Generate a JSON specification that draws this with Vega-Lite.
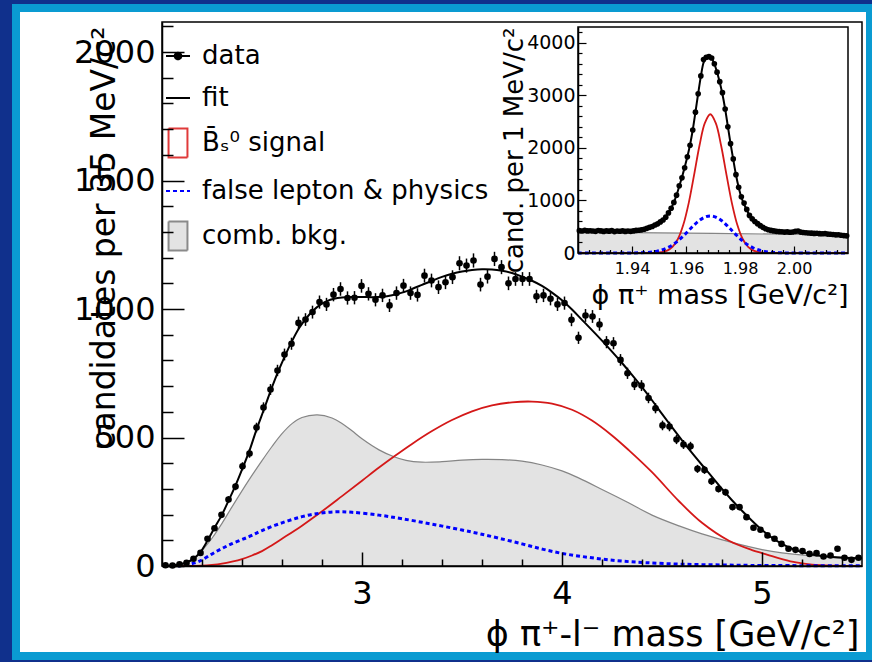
{
  "$schema": "https://vega.github.io/schema/vega-lite/v6.json",
  "width": 700,
  "height": 544,
  "autosize": {"type": "none"},
  "padding": {"left": 162, "top": 22, "right": 10, "bottom": 96},
  "background": "#10308c",
  "config": {
    "font": "DejaVu Sans",
    "view": {"stroke": null},
    "axis": {"grid": false, "domainColor": "black", "tickColor": "black", "labelColor": "black", "titleColor": "black", "titleFontWeight": "normal", "labelFont": "DejaVu Sans", "titleFont": "DejaVu Sans", "labelOverlap": false, "labelFlush": false}
  },
  "datasets": {
    "pts": [
      {"m":2.0175,"v":3,"e":1.5},{"m":2.0525,"v":2,"e":1.2},{"m":2.0875,"v":7,"e":2.1},{"m":2.1225,"v":12,"e":2.8},{"m":2.1575,"v":28,"e":4.2},
      {"m":2.1925,"v":51,"e":5.7},{"m":2.2275,"v":106,"e":8.2},{"m":2.2625,"v":147,"e":9.7},{"m":2.2975,"v":199,"e":11.3},{"m":2.3325,"v":259,"e":12.9},
      {"m":2.3675,"v":309,"e":14.1},{"m":2.4025,"v":388,"e":15.8},{"m":2.4375,"v":438,"e":16.7},{"m":2.4725,"v":539,"e":18.6},{"m":2.5075,"v":617,"e":19.9},
      {"m":2.5425,"v":687,"e":21},{"m":2.5775,"v":761,"e":22.1},{"m":2.6125,"v":823,"e":23},{"m":2.6475,"v":865,"e":23.5},{"m":2.6825,"v":946,"e":24.6},
      {"m":2.7175,"v":959,"e":24.8},{"m":2.7525,"v":988,"e":25.1},{"m":2.7875,"v":1027,"e":25.6},{"m":2.8225,"v":1018,"e":25.5},{"m":2.8575,"v":1056,"e":26},
      {"m":2.8925,"v":1078,"e":26.3},{"m":2.9275,"v":1043,"e":25.8},{"m":2.9625,"v":1044,"e":25.8},{"m":2.9975,"v":1090,"e":26.4},{"m":3.0325,"v":1059,"e":26},
      {"m":3.0675,"v":1036,"e":25.7},{"m":3.1025,"v":1053,"e":26},{"m":3.1375,"v":1014,"e":25.5},{"m":3.1725,"v":1062,"e":26.1},{"m":3.2075,"v":1091,"e":26.4},
      {"m":3.2425,"v":1062,"e":26.1},{"m":3.2775,"v":1055,"e":26},{"m":3.3125,"v":1130,"e":26.9},{"m":3.3475,"v":1111,"e":26.7},{"m":3.3825,"v":1085,"e":26.4},
      {"m":3.4175,"v":1104,"e":26.6},{"m":3.4525,"v":1124,"e":26.8},{"m":3.4875,"v":1178,"e":27.5},{"m":3.5225,"v":1169,"e":27.4},{"m":3.5575,"v":1189,"e":27.6},
      {"m":3.5925,"v":1095,"e":26.5},{"m":3.6275,"v":1126,"e":26.8},{"m":3.6625,"v":1195,"e":27.7},{"m":3.6975,"v":1163,"e":27.3},{"m":3.7325,"v":1100,"e":26.5},
      {"m":3.7675,"v":1117,"e":26.7},{"m":3.8025,"v":1117,"e":26.7},{"m":3.8375,"v":1117,"e":26.7},{"m":3.8725,"v":1049,"e":25.9},{"m":3.9075,"v":1053,"e":26},
      {"m":3.9425,"v":1040,"e":25.8},{"m":3.9775,"v":1018,"e":25.5},{"m":4.0125,"v":1023,"e":25.6},{"m":4.0475,"v":958,"e":24.8},{"m":4.0825,"v":888,"e":23.8},
      {"m":4.1175,"v":975,"e":25},{"m":4.1525,"v":971,"e":24.9},{"m":4.1875,"v":940,"e":24.5},{"m":4.2225,"v":871,"e":23.6},{"m":4.2575,"v":867,"e":23.6},
      {"m":4.2925,"v":802,"e":22.7},{"m":4.3275,"v":750,"e":21.9},{"m":4.3625,"v":706,"e":21.3},{"m":4.3975,"v":702,"e":21.2},{"m":4.4325,"v":654,"e":20.5},
      {"m":4.4675,"v":614,"e":19.8},{"m":4.5025,"v":547,"e":18.7},{"m":4.5375,"v":543,"e":18.6},{"m":4.5725,"v":492,"e":17.7},{"m":4.6075,"v":473,"e":17.4},
      {"m":4.6425,"v":466,"e":17.3},{"m":4.6775,"v":378,"e":15.6},{"m":4.7125,"v":374,"e":15.5},{"m":4.7475,"v":330,"e":14.5},{"m":4.7825,"v":300,"e":13.9},
      {"m":4.8175,"v":287,"e":13.6},{"m":4.8525,"v":229,"e":12.1},{"m":4.8875,"v":229,"e":12.1},{"m":4.9225,"v":190,"e":11},{"m":4.9575,"v":149,"e":9.8},
      {"m":4.9925,"v":141,"e":9.5},{"m":5.0275,"v":119,"e":8.7},{"m":5.0625,"v":106,"e":8.2},{"m":5.0975,"v":86,"e":7.4},{"m":5.1325,"v":67,"e":6.5},
      {"m":5.1675,"v":63,"e":6.3},{"m":5.2025,"v":58,"e":6.1},{"m":5.2375,"v":47,"e":5.5},{"m":5.2725,"v":50,"e":5.7},{"m":5.3075,"v":37,"e":4.9},
      {"m":5.3425,"v":41,"e":5.1},{"m":5.3775,"v":67,"e":6.5},{"m":5.4125,"v":32,"e":4.5},{"m":5.4475,"v":24,"e":3.9},{"m":5.4825,"v":32,"e":4.5}
    ],
    "fit": [
      {"m":2.0,"v":0},{"m":2.05,"v":3},{"m":2.09,"v":7},{"m":2.12,"v":13},{"m":2.155,"v":27},{"m":2.19,"v":52},{"m":2.225,"v":95},{"m":2.26,"v":145},
      {"m":2.3,"v":200},{"m":2.335,"v":258},{"m":2.37,"v":318},{"m":2.4,"v":375},{"m":2.44,"v":455},{"m":2.47,"v":525},{"m":2.51,"v":610},{"m":2.545,"v":685},
      {"m":2.58,"v":755},{"m":2.615,"v":818},{"m":2.65,"v":875},{"m":2.685,"v":925},{"m":2.72,"v":963},{"m":2.755,"v":993},{"m":2.79,"v":1016},{"m":2.825,"v":1031},
      {"m":2.86,"v":1040},{"m":2.9,"v":1045},{"m":2.95,"v":1047},{"m":3.0,"v":1047},{"m":3.05,"v":1046},{"m":3.1,"v":1048},{"m":3.15,"v":1054},{"m":3.2,"v":1064},
      {"m":3.25,"v":1078},{"m":3.3,"v":1094},{"m":3.35,"v":1110},{"m":3.4,"v":1125},{"m":3.45,"v":1137},{"m":3.5,"v":1146},{"m":3.55,"v":1152},{"m":3.6,"v":1155},
      {"m":3.65,"v":1154},{"m":3.7,"v":1149},{"m":3.75,"v":1140},{"m":3.8,"v":1126},{"m":3.85,"v":1110},{"m":3.9,"v":1090},{"m":3.95,"v":1064},{"m":4.0,"v":1034},
      {"m":4.05,"v":998},{"m":4.1,"v":958},{"m":4.15,"v":918},{"m":4.2,"v":877},{"m":4.25,"v":834},{"m":4.3,"v":790},{"m":4.35,"v":744},{"m":4.4,"v":696},
      {"m":4.45,"v":645},{"m":4.5,"v":592},{"m":4.55,"v":540},{"m":4.6,"v":489},{"m":4.65,"v":440},{"m":4.7,"v":393},{"m":4.75,"v":347},{"m":4.8,"v":300},
      {"m":4.85,"v":256},{"m":4.9,"v":215},{"m":4.95,"v":176},{"m":5.0,"v":140},{"m":5.05,"v":110},{"m":5.1,"v":86},{"m":5.15,"v":67},{"m":5.2,"v":54},
      {"m":5.25,"v":45},{"m":5.3,"v":39},{"m":5.35,"v":35},{"m":5.4,"v":32},{"m":5.45,"v":31},{"m":5.5,"v":30}
    ],
    "cb": [
      {"m":2.0,"v":0},{"m":2.08,"v":3},{"m":2.13,"v":15},{"m":2.185,"v":48},{"m":2.25,"v":108},{"m":2.3,"v":166},{"m":2.35,"v":230},{"m":2.435,"v":335},
      {"m":2.5,"v":410},{"m":2.55,"v":465},{"m":2.6,"v":515},{"m":2.65,"v":554},{"m":2.7,"v":578},{"m":2.777,"v":588},{"m":2.85,"v":576},{"m":2.9,"v":555},
      {"m":2.95,"v":526},{"m":3.0,"v":495},{"m":3.085,"v":452},{"m":3.16,"v":425},{"m":3.22,"v":411},{"m":3.3,"v":404},{"m":3.4,"v":406},{"m":3.5,"v":412},
      {"m":3.6,"v":415},{"m":3.7,"v":414},{"m":3.8,"v":408},{"m":3.9,"v":393},{"m":4.0,"v":370},{"m":4.085,"v":342},{"m":4.2,"v":298},{"m":4.335,"v":245},
      {"m":4.45,"v":198},{"m":4.585,"v":156},{"m":4.7,"v":125},{"m":4.835,"v":95},{"m":5.0,"v":64},{"m":5.1,"v":51},{"m":5.25,"v":40},{"m":5.4,"v":35},{"m":5.5,"v":33}
    ],
    "sig": [
      {"m":2.1,"v":0},{"m":2.2,"v":1},{"m":2.25,"v":4},{"m":2.3,"v":9},{"m":2.35,"v":17},{"m":2.4,"v":27},{"m":2.45,"v":41},{"m":2.5,"v":58},{"m":2.55,"v":81},
      {"m":2.6,"v":106},{"m":2.7,"v":157},{"m":2.785,"v":204},{"m":2.9,"v":272},{"m":3.0,"v":332},{"m":3.085,"v":383},{"m":3.16,"v":426},{"m":3.25,"v":475},
      {"m":3.35,"v":525},{"m":3.45,"v":568},{"m":3.55,"v":602},{"m":3.65,"v":625},{"m":3.75,"v":637},{"m":3.85,"v":640},{"m":3.95,"v":632},{"m":4.05,"v":608},
      {"m":4.15,"v":566},{"m":4.25,"v":508},{"m":4.335,"v":450},{"m":4.45,"v":365},{"m":4.585,"v":252},{"m":4.7,"v":168},{"m":4.835,"v":98},{"m":4.95,"v":62},
      {"m":5.0,"v":50},{"m":5.05,"v":38},{"m":5.1,"v":27},{"m":5.17,"v":14},{"m":5.25,"v":5},{"m":5.35,"v":1},{"m":5.5,"v":0}
    ],
    "fl": [
      {"m":2.08,"v":0},{"m":2.13,"v":5},{"m":2.185,"v":18},{"m":2.268,"v":55},{"m":2.35,"v":87},{"m":2.435,"v":114},{"m":2.5,"v":138},{"m":2.6,"v":168},
      {"m":2.7,"v":192},{"m":2.785,"v":205},{"m":2.87,"v":211},{"m":2.95,"v":209},{"m":3.085,"v":198},{"m":3.2,"v":184},{"m":3.35,"v":163},{"m":3.5,"v":140},
      {"m":3.585,"v":126},{"m":3.685,"v":108},{"m":3.8,"v":86},{"m":3.9,"v":66},{"m":4.0,"v":49},{"m":4.1,"v":37},{"m":4.2,"v":27},{"m":4.3,"v":19},
      {"m":4.42,"v":13},{"m":4.6,"v":7},{"m":4.8,"v":4},{"m":5.0,"v":2},{"m":5.5,"v":1}
    ],
    "leg": [
      {"s":"data"},{"s":"fit"},{"s":"B̄ₛ⁰ signal"},{"s":"false lepton & physics"},{"s":"comb. bkg."}
    ],
    "ipts": [
      {"m":1.9205,"v":425},{"m":1.9215,"v":418},{"m":1.9225,"v":430},{"m":1.9235,"v":420},{"m":1.9245,"v":424},{"m":1.9255,"v":418},{"m":1.9265,"v":412},
      {"m":1.9275,"v":428},{"m":1.9285,"v":420},{"m":1.9295,"v":410},{"m":1.9305,"v":422},{"m":1.9315,"v":415},{"m":1.9325,"v":425},{"m":1.9335,"v":408},
      {"m":1.9345,"v":418},{"m":1.9355,"v":414},{"m":1.9365,"v":422},{"m":1.9375,"v":410},{"m":1.9385,"v":418},{"m":1.9395,"v":412},{"m":1.9405,"v":420},
      {"m":1.9415,"v":430},{"m":1.9425,"v":432},{"m":1.9435,"v":440},{"m":1.9445,"v":452},{"m":1.9455,"v":470},{"m":1.9465,"v":488},{"m":1.9475,"v":505},
      {"m":1.9485,"v":532},{"m":1.9495,"v":555},{"m":1.9505,"v":592},{"m":1.9515,"v":628},{"m":1.9525,"v":682},{"m":1.9535,"v":762},{"m":1.9545,"v":852},
      {"m":1.9555,"v":962},{"m":1.9565,"v":1100},{"m":1.9575,"v":1280},{"m":1.9585,"v":1430},{"m":1.9595,"v":1620},{"m":1.9605,"v":1830},{"m":1.9615,"v":2050},
      {"m":1.9625,"v":2340},{"m":1.9635,"v":2680},{"m":1.9645,"v":3030},{"m":1.9655,"v":3370},{"m":1.9665,"v":3680},{"m":1.9675,"v":3725},{"m":1.9685,"v":3735},
      {"m":1.9695,"v":3710},{"m":1.9705,"v":3600},{"m":1.9715,"v":3440},{"m":1.9725,"v":3260},{"m":1.9735,"v":3050},{"m":1.9745,"v":2740},{"m":1.9755,"v":2400},
      {"m":1.9765,"v":2080},{"m":1.9775,"v":1790},{"m":1.9785,"v":1490},{"m":1.9795,"v":1250},{"m":1.9805,"v":1070},{"m":1.9815,"v":950},{"m":1.9825,"v":830},
      {"m":1.9835,"v":715},{"m":1.9845,"v":650},{"m":1.9855,"v":600},{"m":1.9865,"v":558},{"m":1.9875,"v":520},{"m":1.9885,"v":488},{"m":1.9895,"v":462},
      {"m":1.9905,"v":442},{"m":1.9915,"v":430},{"m":1.9925,"v":420},{"m":1.9935,"v":412},{"m":1.9945,"v":408},{"m":1.9955,"v":404},{"m":1.9965,"v":398},
      {"m":1.9975,"v":402},{"m":1.9985,"v":394},{"m":1.9995,"v":400},{"m":2.0005,"v":412},{"m":2.0015,"v":418},{"m":2.0025,"v":398},{"m":2.0035,"v":390},
      {"m":2.0045,"v":386},{"m":2.0055,"v":380},{"m":2.0065,"v":378},{"m":2.0075,"v":372},{"m":2.0085,"v":375},{"m":2.0095,"v":368},{"m":2.0105,"v":366},
      {"m":2.0115,"v":370},{"m":2.0125,"v":360},{"m":2.0135,"v":356},{"m":2.0145,"v":352},{"m":2.0155,"v":346},{"m":2.0165,"v":348},{"m":2.0175,"v":338},
      {"m":2.0185,"v":332},{"m":2.0195,"v":326}
    ],
    "ifit": [
      {"m":1.92,"v":420},{"m":1.9305,"v":418},{"m":1.9405,"v":420},{"m":1.9425,"v":430},{"m":1.9445,"v":450},{"m":1.9465,"v":485},{"m":1.9485,"v":530},
      {"m":1.9505,"v":590},{"m":1.9515,"v":630},{"m":1.9525,"v":685},{"m":1.9535,"v":760},{"m":1.9545,"v":855},{"m":1.9555,"v":965},{"m":1.9565,"v":1100},
      {"m":1.9575,"v":1270},{"m":1.9585,"v":1440},{"m":1.9595,"v":1630},{"m":1.9605,"v":1830},{"m":1.9615,"v":2060},{"m":1.9625,"v":2340},{"m":1.9635,"v":2680},
      {"m":1.9645,"v":3030},{"m":1.9655,"v":3360},{"m":1.9665,"v":3620},{"m":1.9675,"v":3720},{"m":1.9685,"v":3735},{"m":1.9695,"v":3700},{"m":1.9705,"v":3600},
      {"m":1.9715,"v":3440},{"m":1.9725,"v":3250},{"m":1.9735,"v":3020},{"m":1.9745,"v":2740},{"m":1.9755,"v":2410},{"m":1.9765,"v":2080},{"m":1.9775,"v":1780},
      {"m":1.9785,"v":1490},{"m":1.9795,"v":1250},{"m":1.9805,"v":1060},{"m":1.9815,"v":930},{"m":1.9825,"v":820},{"m":1.9835,"v":720},{"m":1.9845,"v":650},
      {"m":1.9855,"v":598},{"m":1.9865,"v":555},{"m":1.9885,"v":490},{"m":1.9905,"v":445},{"m":1.9925,"v":422},{"m":1.9955,"v":405},{"m":2.0005,"v":400},
      {"m":2.0055,"v":382},{"m":2.0105,"v":366},{"m":2.0155,"v":348},{"m":2.0195,"v":328},{"m":2.02,"v":326}
    ],
    "icb": [{"m":1.92,"v":398},{"m":1.97,"v":372},{"m":2.02,"v":345}],
    "isig": [
      {"m":1.92,"v":0},{"m":1.945,"v":0},{"m":1.949,"v":4},{"m":1.951,"v":15},{"m":1.953,"v":45},{"m":1.955,"v":116},{"m":1.957,"v":266},{"m":1.959,"v":536},
      {"m":1.961,"v":950},{"m":1.963,"v":1486},{"m":1.965,"v":2046},{"m":1.967,"v":2476},{"m":1.969,"v":2640},{"m":1.971,"v":2476},{"m":1.973,"v":2046},
      {"m":1.975,"v":1486},{"m":1.977,"v":950},{"m":1.979,"v":536},{"m":1.981,"v":266},{"m":1.983,"v":116},{"m":1.985,"v":45},{"m":1.987,"v":15},{"m":1.989,"v":4},
      {"m":1.993,"v":0},{"m":2.02,"v":0}
    ],
    "ifl": [
      {"m":1.92,"v":0},{"m":1.94,"v":1},{"m":1.945,"v":8},{"m":1.949,"v":31},{"m":1.951,"v":56},{"m":1.953,"v":95},{"m":1.955,"v":152},{"m":1.957,"v":229},
      {"m":1.959,"v":323},{"m":1.961,"v":428},{"m":1.963,"v":532},{"m":1.965,"v":622},{"m":1.967,"v":683},{"m":1.969,"v":705},{"m":1.971,"v":683},{"m":1.973,"v":622},
      {"m":1.975,"v":532},{"m":1.977,"v":428},{"m":1.979,"v":323},{"m":1.981,"v":229},{"m":1.983,"v":152},{"m":1.985,"v":95},{"m":1.987,"v":56},{"m":1.989,"v":31},
      {"m":1.993,"v":8},{"m":1.998,"v":1},{"m":2.02,"v":0}
    ]
  },
  "layer": [
    {
      "resolve": {"axis": {"x": "independent", "y": "independent"}},
      "layer": [
        {
          "data": {"values": [{}]},
          "mark": {"type": "rect", "fill": "white", "stroke": "#0a9bd2", "strokeWidth": 8, "clip": false},
          "encoding": {
            "x": {"datum": 1.27, "type": "quantitative", "scale": {"domain": [2, 5.5], "nice": false, "zero": false}, "axis": null},
            "x2": {"datum": 5.54},
            "y": {"datum": 2171, "type": "quantitative", "scale": {"domain": [0, 2117], "nice": false, "zero": false}, "axis": null},
            "y2": {"datum": -350}
          }
        },
        {
          "data": {"name": "cb"},
          "mark": {"type": "area", "interpolate": "catmull-rom", "color": "#e3e3e3", "opacity": 1, "line": {"color": "#858585", "strokeWidth": 1.2}},
          "encoding": {
            "x": {"field": "m", "type": "quantitative", "scale": {"domain": [2, 5.5], "nice": false, "zero": false},
              "axis": {"orient": "bottom", "zindex": 2, "labelOverlap": false, "values": [3, 4, 5], "format": "d",
                "tickSize": -14, "tickWidth": 1.5, "domainWidth": 1.5, "labelFontSize": 32, "labelPadding": 26,
                "title": "ϕ π⁺-l⁻ mass [GeV/c²]", "titleFontSize": 35, "titleAnchor": "end", "titleAlign": "right", "titleBaseline": "alphabetic", "titleX": 697, "titleY": 79}},
            "y": {"field": "v", "type": "quantitative", "scale": {"domain": [0, 2117], "nice": false, "zero": false},
              "axis": {"orient": "left", "zindex": 2, "labelOverlap": false, "values": [0, 500, 1000, 1500, 2000], "format": "d",
                "tickSize": -22, "tickWidth": 1.5, "domainWidth": 1.5, "labelFontSize": 32, "labelPadding": 29,
                "title": "candidates per 35 MeV/c²", "titleFontSize": 33, "titleAnchor": "end", "titleAlign": "right", "titleBaseline": "alphabetic", "titleX": -48, "titleY": 4}}
          }
        },
        {
          "data": {"name": "sig"},
          "mark": {"type": "line", "interpolate": "catmull-rom", "color": "#d41818", "strokeWidth": 1.8},
          "encoding": {
            "x": {"field": "m", "type": "quantitative", "scale": {"domain": [2, 5.5], "nice": false, "zero": false},
              "axis": {"orient": "bottom", "zindex": 2, "values": [2.2,2.4,2.6,2.8,3.2,3.4,3.6,3.8,4.2,4.4,4.6,4.8,5.2,5.4],
                "labels": false, "domain": false, "title": null, "tickSize": -7, "tickWidth": 1.5}},
            "y": {"field": "v", "type": "quantitative", "scale": {"domain": [0, 2117], "nice": false, "zero": false},
              "axis": {"orient": "left", "zindex": 2, "values": [100,200,300,400,600,700,800,900,1100,1200,1300,1400,1600,1700,1800,1900,2100],
                "labels": false, "domain": false, "title": null, "tickSize": -11, "tickWidth": 1.5}}
          }
        },
        {
          "data": {"name": "fl"},
          "mark": {"type": "line", "interpolate": "catmull-rom", "color": "#0000ff", "strokeWidth": 3, "strokeDash": [4, 3]},
          "encoding": {
            "x": {"field": "m", "type": "quantitative", "scale": {"domain": [2, 5.5], "nice": false, "zero": false}, "axis": null},
            "y": {"field": "v", "type": "quantitative", "scale": {"domain": [0, 2117], "nice": false, "zero": false}, "axis": null}
          }
        },
        {
          "data": {"name": "fit"},
          "mark": {"type": "line", "interpolate": "catmull-rom", "color": "black", "strokeWidth": 2},
          "encoding": {
            "x": {"field": "m", "type": "quantitative", "scale": {"domain": [2, 5.5], "nice": false, "zero": false}, "axis": null},
            "y": {"field": "v", "type": "quantitative", "scale": {"domain": [0, 2117], "nice": false, "zero": false}, "axis": null}
          }
        },
        {
          "data": {"name": "pts"},
          "mark": {"type": "errorbar", "ticks": false, "thickness": 1.5, "color": "black"},
          "encoding": {
            "x": {"field": "m", "type": "quantitative", "scale": {"domain": [2, 5.5], "nice": false, "zero": false}, "axis": null},
            "y": {"field": "v", "type": "quantitative", "scale": {"domain": [0, 2117], "nice": false, "zero": false}, "axis": null},
            "yError": {"field": "e"}
          }
        },
        {
          "data": {"name": "pts"},
          "mark": {"type": "circle", "size": 44, "color": "black", "opacity": 1},
          "encoding": {
            "x": {"field": "m", "type": "quantitative", "scale": {"domain": [2, 5.5], "nice": false, "zero": false}, "axis": null},
            "y": {"field": "v", "type": "quantitative", "scale": {"domain": [0, 2117], "nice": false, "zero": false}, "axis": null}
          }
        },
        {
          "data": {"name": "leg"},
          "mark": {"type": "point", "clip": true, "opacity": 1},
          "encoding": {
            "x": {"datum": 0, "type": "quantitative", "scale": {"domain": [2, 5.5], "nice": false, "zero": false}, "axis": null},
            "y": {"datum": -1000, "type": "quantitative", "scale": {"domain": [0, 2117], "nice": false, "zero": false}, "axis": null},
            "shape": {"field": "s", "type": "nominal",
              "scale": {"domain": ["data","fit","B̄ₛ⁰ signal","false lepton & physics","comb. bkg."],
                "range": ["M-0.8,0H0.8M-0.22,0A0.22,0.22,0,1,1,0.22,0A0.22,0.22,0,1,1,-0.22,0Z", "M-0.8,0H0.8", "M-0.63,-0.97H0.63V0.97H-0.63Z", "M-0.8,0H0.8", "M-0.63,-0.97H0.63V0.97H-0.63Z"]},
              "legend": {"orient": "none", "legendX": 0, "legendY": 18, "title": null, "labelFontSize": 26, "labelFont": "DejaVu Sans", "labelColor": "black", "symbolSize": 900, "symbolStrokeWidth": 2, "rowPadding": 13, "labelOffset": 8, "labelLimit": 600, "zindex": 1, "padding": 0}},
            "fill": {"field": "s", "type": "nominal",
              "scale": {"domain": ["data","fit","B̄ₛ⁰ signal","false lepton & physics","comb. bkg."], "range": ["black","transparent","transparent","transparent","#e3e3e3"]},
              "legend": {"orient": "none", "legendX": 0, "legendY": 18, "title": null, "labelFontSize": 26, "labelFont": "DejaVu Sans", "labelColor": "black", "symbolSize": 900, "symbolStrokeWidth": 2, "rowPadding": 13, "labelOffset": 8, "labelLimit": 600, "zindex": 1, "padding": 0}},
            "stroke": {"field": "s", "type": "nominal",
              "scale": {"domain": ["data","fit","B̄ₛ⁰ signal","false lepton & physics","comb. bkg."], "range": ["black","black","#e03a3a","#0000ff","#8a8a8a"]},
              "legend": {"orient": "none", "legendX": 0, "legendY": 18, "title": null, "labelFontSize": 26, "labelFont": "DejaVu Sans", "labelColor": "black", "symbolSize": 900, "symbolStrokeWidth": 2, "rowPadding": 13, "labelOffset": 8, "labelLimit": 600, "zindex": 1, "padding": 0}},
            "strokeDash": {"field": "s", "type": "nominal",
              "scale": {"domain": ["data","fit","B̄ₛ⁰ signal","false lepton & physics","comb. bkg."], "range": [[1,0],[1,0],[1,0],[4,3],[1,0]]},
              "legend": {"orient": "none", "legendX": 0, "legendY": 18, "title": null, "labelFontSize": 26, "labelFont": "DejaVu Sans", "labelColor": "black", "symbolSize": 900, "symbolStrokeWidth": 2, "rowPadding": 13, "labelOffset": 8, "labelLimit": 600, "zindex": 1, "padding": 0}}
          }
        },
        {
          "data": {"values": [{}]},
          "mark": {"type": "rect", "fill": "transparent", "stroke": "black", "strokeWidth": 1.5, "clip": false},
          "encoding": {
            "x": {"datum": 2, "type": "quantitative", "scale": {"domain": [2, 5.5], "nice": false, "zero": false}, "axis": null},
            "x2": {"datum": 5.5},
            "y": {"datum": 0, "type": "quantitative", "scale": {"domain": [0, 2117], "nice": false, "zero": false}, "axis": null},
            "y2": {"datum": 2117}
          }
        }
      ]
    },
    {
      "resolve": {"axis": {"x": "independent", "y": "independent"}},
      "layer": [
        {
          "data": {"values": [{}]},
          "mark": {"type": "rect", "fill": "white", "stroke": null},
          "encoding": {
            "x": {"datum": 1.92, "type": "quantitative", "scale": {"domain": [1.92, 2.02], "range": [416, 686], "nice": false, "zero": false}, "axis": null},
            "x2": {"datum": 2.02},
            "y": {"datum": 0, "type": "quantitative", "scale": {"domain": [0, 4300], "range": [231, 5], "nice": false, "zero": false}, "axis": null},
            "y2": {"datum": 4300}
          }
        },
        {
          "data": {"name": "icb"},
          "mark": {"type": "area", "color": "#e3e3e3", "opacity": 1, "line": {"color": "#858585", "strokeWidth": 1.2}},
          "encoding": {
            "x": {"field": "m", "type": "quantitative", "scale": {"domain": [1.92, 2.02], "range": [416, 686], "nice": false, "zero": false},
              "axis": {"orient": "bottom", "offset": -313, "zindex": 2, "labelOverlap": false, "values": [1.94, 1.96, 1.98, 2.0], "format": ".2f",
                "tickSize": -7, "tickWidth": 1.2, "domainWidth": 1.5, "labelFontSize": 16, "labelPadding": 14,
                "title": "ϕ π⁺ mass [GeV/c²]", "titleFontSize": 27, "titleAlign": "right", "titleAnchor": "end", "titleBaseline": "alphabetic", "titleX": 686, "titleY": 50}},
            "y": {"field": "v", "type": "quantitative", "scale": {"domain": [0, 4300], "range": [231, 5], "nice": false, "zero": false},
              "axis": {"orient": "left", "offset": -416, "zindex": 2, "labelOverlap": false, "values": [0, 1000, 2000, 3000, 4000], "format": "d",
                "tickSize": -8, "tickWidth": 1.2, "domainWidth": 1.5, "labelFontSize": 19, "labelPadding": 11,
                "title": "cand. per 1 MeV/c²", "titleFontSize": 26, "titleAlign": "right", "titleAnchor": "end", "titleBaseline": "alphabetic", "titleX": -56, "titleY": 5}}
          }
        },
        {
          "data": {"name": "isig"},
          "mark": {"type": "line", "interpolate": "catmull-rom", "color": "#d41818", "strokeWidth": 1.8},
          "encoding": {
            "x": {"field": "m", "type": "quantitative", "scale": {"domain": [1.92, 2.02], "range": [416, 686], "nice": false, "zero": false},
              "axis": {"orient": "bottom", "offset": -313, "zindex": 2, "values": [1.924,1.928,1.932,1.936,1.944,1.948,1.952,1.956,1.964,1.968,1.972,1.976,1.984,1.988,1.992,1.996,2.004,2.008,2.012,2.016],
                "labels": false, "domain": false, "title": null, "tickSize": -3.5, "tickWidth": 1.2}},
            "y": {"field": "v", "type": "quantitative", "scale": {"domain": [0, 4300], "range": [231, 5], "nice": false, "zero": false},
              "axis": {"orient": "left", "offset": -416, "zindex": 2, "values": [200,400,600,800,1200,1400,1600,1800,2200,2400,2600,2800,3200,3400,3600,3800,4200],
                "labels": false, "domain": false, "title": null, "tickSize": -4, "tickWidth": 1.2}}
          }
        },
        {
          "data": {"name": "ifl"},
          "mark": {"type": "line", "interpolate": "catmull-rom", "color": "#0000ff", "strokeWidth": 3, "strokeDash": [4, 3]},
          "encoding": {
            "x": {"field": "m", "type": "quantitative", "scale": {"domain": [1.92, 2.02], "range": [416, 686], "nice": false, "zero": false}, "axis": null},
            "y": {"field": "v", "type": "quantitative", "scale": {"domain": [0, 4300], "range": [231, 5], "nice": false, "zero": false}, "axis": null}
          }
        },
        {
          "data": {"name": "ifit"},
          "mark": {"type": "line", "interpolate": "catmull-rom", "color": "black", "strokeWidth": 2},
          "encoding": {
            "x": {"field": "m", "type": "quantitative", "scale": {"domain": [1.92, 2.02], "range": [416, 686], "nice": false, "zero": false}, "axis": null},
            "y": {"field": "v", "type": "quantitative", "scale": {"domain": [0, 4300], "range": [231, 5], "nice": false, "zero": false}, "axis": null}
          }
        },
        {
          "data": {"name": "ipts"},
          "mark": {"type": "circle", "size": 32, "color": "black", "opacity": 1},
          "encoding": {
            "x": {"field": "m", "type": "quantitative", "scale": {"domain": [1.92, 2.02], "range": [416, 686], "nice": false, "zero": false}, "axis": null},
            "y": {"field": "v", "type": "quantitative", "scale": {"domain": [0, 4300], "range": [231, 5], "nice": false, "zero": false}, "axis": null}
          }
        },
        {
          "data": {"values": [{}]},
          "mark": {"type": "rect", "fill": "transparent", "stroke": "black", "strokeWidth": 1.5},
          "encoding": {
            "x": {"datum": 1.92, "type": "quantitative", "scale": {"domain": [1.92, 2.02], "range": [416, 686], "nice": false, "zero": false}, "axis": null},
            "x2": {"datum": 2.02},
            "y": {"datum": 0, "type": "quantitative", "scale": {"domain": [0, 4300], "range": [231, 5], "nice": false, "zero": false}, "axis": null},
            "y2": {"datum": 4300}
          }
        }
      ]
    }
  ],
  "resolve": {"scale": {"x": "independent", "y": "independent"}}
}
